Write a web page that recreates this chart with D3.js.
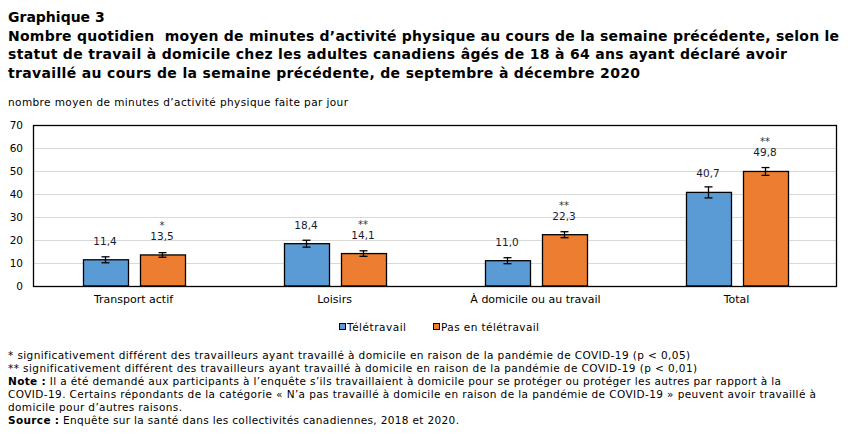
<!DOCTYPE html>
<html>
<head>
<meta charset="utf-8">
<script src="https://cdn.jsdelivr.net/npm/d3@7"></script>
<style>
  body { margin: 0; background: #fff; }
  svg { display: block; }
</style>
</head>
<body>
<div id="chart"></div>
<script>
// data
var categories = ["Transport actif", "Loisirs", "À domicile ou au travail", "Total"];
var teletravail = [11.4, 18.4, 11.0, 40.7];
var pasTeletravail = [13.5, 14.1, 22.3, 49.8];
// half widths of the confidence intervals (estimated)
var errTeletravail = [1.3, 1.5, 1.3, 2.4];
var errPasTeletravail = [1.0, 1.2, 1.3, 1.7];
var signifPas = ["*", "**", "**", "**"];
var seriesNames = ["Télétravail", "Pas en télétravail"];
var yTicks = [0, 10, 20, 30, 40, 50, 60, 70];

var titleLines = [
  "Graphique 3",
  "Nombre quotidien  moyen de minutes d\u2019activité physique au cours de la semaine précédente, selon le",
  "statut de travail à domicile chez les adultes canadiens âgés de 18 à 64 ans ayant déclaré avoir",
  "travaillé au cours de la semaine précédente, de septembre à décembre 2020"
];
var yTitle = "nombre moyen de minutes d\u2019activité physique faite par jour";
var notes = [
  ["", "* significativement différent des travailleurs ayant travaillé à domicile en raison de la pandémie de COVID-19 (p < 0,05)"],
  ["", "** significativement différent des travailleurs ayant travaillé à domicile en raison de la pandémie de COVID-19 (p < 0,01)"],
  ["Note :", " Il a été demandé aux participants à l\u2019enquête s\u2019ils travaillaient à domicile pour se protéger ou protéger les autres par rapport à la"],
  ["", "COVID-19. Certains répondants de la catégorie « N\u2019a pas travaillé à domicile en raison de la pandémie de COVID-19 » peuvent avoir travaillé à"],
  ["", "domicile pour d\u2019autres raisons."],
  ["Source :", " Enquête sur la santé dans les collectivités canadiennes, 2018 et 2020."]
];

var svgWidth = 854;
var svgHeight = 436;
var margin = { top: 125, right: 17, bottom: 150, left: 33 };
var width = svgWidth - margin.left - margin.right;
var height = svgHeight - margin.top - margin.bottom;

var colors = ["#5b9bd5", "#ed7d31"];
var font = "'DejaVu Sans', Verdana, sans-serif";

var svg = d3.select("#chart")
  .append("svg")
  .attr("width", svgWidth)
  .attr("height", svgHeight);

// make a text line end where the reference line ends:
// widen with letter-spacing, narrow by shrinking the font a little
function fitTo(sel, startX, endX) {
  var node = sel.node();
  var len = node.getComputedTextLength();
  var n = node.textContent.length;
  var target = endX - startX;
  if (len > target) {
    var fs = parseFloat(sel.attr("font-size"));
    sel.attr("font-size", (fs * target / len).toFixed(2) + "px");
  } else if (n > 1) {
    sel.attr("letter-spacing", ((target - len) / (n - 1)).toFixed(3) + "px");
  }
}

// titles
var titleEnds = [null, 839, 787, 640];
titleLines.forEach(function(line, i) {
  var t = svg.append("text")
    .attr("x", 8)
    .attr("y", 22 + i * 18.5)
    .attr("font-family", font)
    .attr("font-weight", "bold")
    .attr("font-size", "14px")
    .attr("fill", "#000")
    .style("white-space", "pre")
    .text(line);
  if (titleEnds[i]) fitTo(t, 8, titleEnds[i]);
});

var sub = svg.append("text")
  .attr("x", 8)
  .attr("y", 106)
  .attr("font-family", font)
  .attr("font-size", "10.5px")
  .attr("fill", "#000")
  .text(yTitle);
fitTo(sub, 8, 348);

var chartGroup = svg.append("g")
  .attr("transform", `translate(${margin.left}, ${margin.top})`);

var x0 = d3.scaleBand()
  .domain(categories)
  .range([0, width]);

var y = d3.scaleLinear()
  .domain([0, 70])
  .range([height, 0]);

// gridlines
chartGroup.append("g")
  .selectAll("line")
  .data(yTicks.slice(1))
  .enter()
  .append("line")
  .attr("x1", 0)
  .attr("x2", width)
  .attr("y1", d => Math.round(y(d)) + 0.5)
  .attr("y2", d => Math.round(y(d)) + 0.5)
  .attr("stroke", "#d9d9d9")
  .attr("stroke-width", 1);

// y axis labels
var leftAxis = d3.axisLeft(y).tickValues(yTicks).tickSize(0).tickPadding(10);
var yAxisG = chartGroup.append("g").call(leftAxis);
yAxisG.select(".domain").remove();
yAxisG.selectAll("text")
  .attr("font-family", font)
  .attr("font-size", "10.5px")
  .attr("fill", "#000");

// x axis labels
var bottomAxis = d3.axisBottom(x0).tickSize(0).tickPadding(9);
var xAxisG = chartGroup.append("g")
  .attr("transform", `translate(0, ${height})`)
  .call(bottomAxis);
xAxisG.select(".domain").remove();
xAxisG.selectAll("text")
  .attr("font-family", font)
  .attr("font-size", "11px")
  .attr("fill", "#000");

// bars
var barW = 45, barGap = 12;
var seriesData = [
  { vals: teletravail, errs: errTeletravail, sig: null },
  { vals: pasTeletravail, errs: errPasTeletravail, sig: signifPas }
];

seriesData.forEach(function(s, si) {
  var offset = si === 0 ? -(barGap / 2 + barW) : barGap / 2;
  var rows = categories.map((c, i) => ({ cat: c, v: s.vals[i], e: s.errs[i], sig: s.sig ? s.sig[i] : null }));
  var cx = d => x0(d.cat) + x0.bandwidth() / 2 + offset + barW / 2;

  var g = chartGroup.append("g");
  g.selectAll("rect")
    .data(rows)
    .enter()
    .append("rect")
    .attr("x", d => Math.round(cx(d) - barW / 2) + 0.5)
    .attr("y", d => y(d.v))
    .attr("width", barW)
    .attr("height", d => height - y(d.v))
    .attr("fill", colors[si])
    .attr("stroke", "#000")
    .attr("stroke-width", 1.3);

  // error bars
  var eb = g.selectAll(".err")
    .data(rows)
    .enter()
    .append("g")
    .attr("class", "err")
    .attr("stroke", "#000")
    .attr("stroke-width", 1.3);
  eb.append("line")
    .attr("x1", d => Math.round(cx(d)) + 0.5).attr("x2", d => Math.round(cx(d)) + 0.5)
    .attr("y1", d => y(d.v + d.e)).attr("y2", d => y(d.v - d.e));
  eb.append("line")
    .attr("x1", d => Math.round(cx(d)) - 3.5).attr("x2", d => Math.round(cx(d)) + 4.5)
    .attr("y1", d => y(d.v + d.e)).attr("y2", d => y(d.v + d.e));
  eb.append("line")
    .attr("x1", d => Math.round(cx(d)) - 3.5).attr("x2", d => Math.round(cx(d)) + 4.5)
    .attr("y1", d => y(d.v - d.e)).attr("y2", d => y(d.v - d.e));

  // value labels
  g.selectAll(".val")
    .data(rows)
    .enter()
    .append("text")
    .attr("class", "val")
    .attr("x", d => cx(d))
    .attr("y", d => y(d.v) - 15)
    .attr("text-anchor", "middle")
    .attr("font-family", font)
    .attr("font-size", "10.5px")
    .attr("fill", "#1a1a2e")
    .text(d => d3.format(".1f")(d.v).replace(".", ","));

  // significance marks
  g.selectAll(".sig")
    .data(rows.filter(d => d.sig))
    .enter()
    .append("text")
    .attr("class", "sig")
    .attr("x", d => cx(d))
    .attr("y", d => y(d.v) - 26)
    .attr("text-anchor", "middle")
    .attr("font-family", font)
    .attr("font-size", "10px")
    .attr("fill", "#333")
    .text(d => d.sig);
});

// plot border
chartGroup.append("rect")
  .attr("x", 0.5)
  .attr("y", 0.5)
  .attr("width", width - 1)
  .attr("height", height)
  .attr("fill", "none")
  .attr("stroke", "#000")
  .attr("stroke-width", 1.3);

// legend
var legendX = [339, 433];
var legendEnds = [406, 539];
var legend = svg.append("g");
seriesNames.forEach(function(name, i) {
  legend.append("rect")
    .attr("x", legendX[i] + 0.5)
    .attr("y", 323.5)
    .attr("width", 6)
    .attr("height", 6)
    .attr("fill", colors[i])
    .attr("stroke", "#000")
    .attr("stroke-width", 1);
  var t = legend.append("text")
    .attr("x", legendX[i] + 8)
    .attr("y", 331)
    .attr("font-family", font)
    .attr("font-size", "10.5px")
    .attr("fill", "#000")
    .text(name);
  fitTo(t, legendX[i] + 8, legendEnds[i]);
});

// footnotes
var noteEnds = [690, 697, 781, 816, 182, 459];
var notesG = svg.append("g");
notes.forEach(function(line, i) {
  var t = notesG.append("text")
    .attr("x", 8)
    .attr("y", 358.5 + i * 13.1)
    .attr("font-family", font)
    .attr("font-size", "10.5px")
    .attr("fill", "#000")
    .style("white-space", "pre");
  if (line[0]) t.append("tspan").attr("font-weight", "bold").text(line[0]);
  t.append("tspan").text(line[1]);
  fitTo(t, 8, noteEnds[i]);
});
</script>
</body>
</html>
